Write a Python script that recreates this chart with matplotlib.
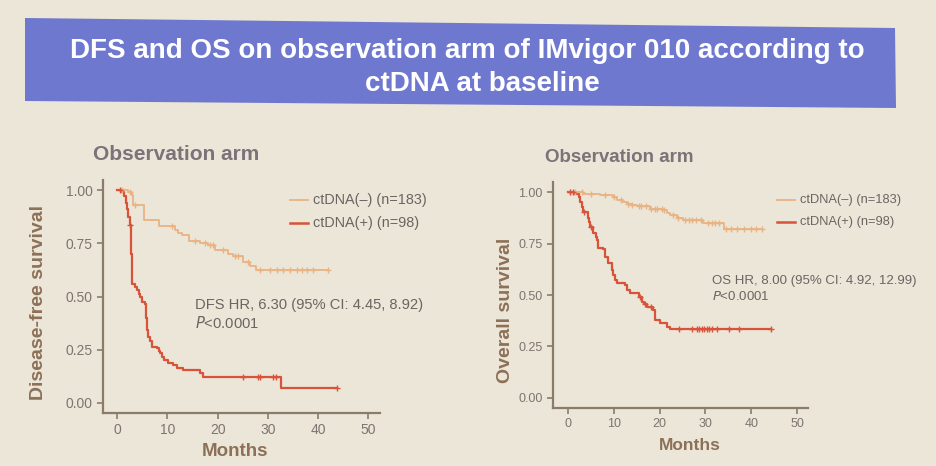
import numpy as np
import matplotlib
matplotlib.use("Agg")
import matplotlib.pyplot as plt
from matplotlib.patches import Polygon

plt.rcParams['font.family'] = ['Liberation Sans', 'DejaVu Sans']

# ---- data ----
x_ticks = [0, 10, 20, 30, 40, 50]
y_ticks = [0.00, 0.25, 0.50, 0.75, 1.00]
legend_labels = ["ctDNA(\u2013) (n=183)", "ctDNA(+) (n=98)"]

# DFS, ctDNA negative
dfs_neg_t = [0, 2.2, 2.9, 3.2, 5.4, 8.3, 11.5, 12.2, 13.0, 14.3, 16.5, 18.0, 19.5, 22.0, 23.0, 25.0, 26.5, 27.6, 42.0]
dfs_neg_s = [1.0, 0.99, 0.975, 0.93, 0.86, 0.83, 0.81, 0.80, 0.79, 0.76, 0.75, 0.742, 0.72, 0.70, 0.69, 0.66, 0.645, 0.623, 0.623]
dfs_neg_cens = [1.0, 2.5, 3.5, 11.0, 15.5, 17.5, 18.5, 19.0, 21.0, 23.5, 24.0, 26.0,
                28.5, 30.4, 31.8, 33.0, 34.4, 35.8, 36.8, 37.8, 39.0, 42.0]

# DFS, ctDNA positive
dfs_pos_t = [0, 0.9, 1.4, 1.8, 2.0, 2.2, 2.5, 2.7, 2.85, 2.95, 3.05, 3.6, 3.9, 4.3, 4.6, 4.9,
             5.6, 5.7, 5.8, 5.9, 6.0, 6.2, 6.5, 6.9, 7.9, 8.3, 8.6, 9.0, 9.3, 10.2, 11.2,
             11.9, 13.2, 16.5, 17.0, 32.7, 43.7]
dfs_pos_s = [1.0, 0.99, 0.97, 0.94, 0.91, 0.875, 0.835, 0.78, 0.70, 0.62, 0.56, 0.546, 0.53,
             0.51, 0.50, 0.475, 0.467, 0.43, 0.40, 0.37, 0.343, 0.31, 0.29, 0.264, 0.256,
             0.245, 0.233, 0.215, 0.20, 0.186, 0.178, 0.163, 0.155, 0.139, 0.12, 0.07, 0.07]
dfs_pos_cens = [0.5, 2.6, 25.1, 28.1, 28.5, 31.1, 31.7, 43.7]

# OS, ctDNA negative
os_neg_t = [0, 3.3, 7.0, 9.9, 10.6, 12.0, 12.8, 14.0, 15.0, 17.9, 20.8, 21.5, 22.3, 23.7,
            25.2, 29.5, 34.1, 42.3]
os_neg_s = [1.0, 0.99, 0.985, 0.977, 0.96, 0.952, 0.945, 0.938, 0.932, 0.92, 0.913, 0.90,
            0.888, 0.877, 0.867, 0.851, 0.819, 0.819]
os_neg_cens = [0.5, 1.5, 3.0, 5.0, 8.0, 10.0, 11.5, 13.0, 14.0, 15.5, 16.0, 17.0, 18.0, 19.0,
               19.5, 20.5, 21.0, 23.0, 24.0, 25.5, 26.5, 27.0, 28.0, 29.0, 30.5, 31.5, 32.0,
               33.0, 34.5, 35.5, 37.0, 38.5, 40.0, 41.0, 42.3]

# OS, ctDNA positive
os_pos_t = [0, 1.5, 2.3, 2.6, 3.0, 3.3, 4.4, 4.6, 4.8, 5.5, 6.0, 6.3, 6.5, 7.7, 8.1, 8.8,
            9.5, 9.9, 10.3, 10.6, 12.4, 12.8, 13.5, 15.4, 16.1, 16.6, 17.2, 18.6, 19.0,
            20.1, 21.5, 22.3, 44.3]
os_pos_s = [1.0, 0.994, 0.975, 0.953, 0.93, 0.904, 0.877, 0.855, 0.832, 0.80, 0.78, 0.767,
            0.727, 0.722, 0.686, 0.654, 0.621, 0.597, 0.575, 0.557, 0.549, 0.524, 0.511,
            0.492, 0.467, 0.455, 0.443, 0.427, 0.379, 0.363, 0.346, 0.335, 0.335]
os_pos_cens = [0.5, 1.0, 3.5, 5.0, 15.8, 16.8, 18.0, 24.2, 27.0, 28.1, 28.6, 29.2, 29.7,
               30.3, 30.8, 31.4, 32.5, 35.2, 37.3, 44.3]

# ---- styling ----
W, H = 936, 466
BG = "#ebe6d7"
NEG = "#e9b383"
POS = "#d9523a"
AXC = "#8b7b6b"
TICKC = "#7d7470"
LABC = "#8c7058"
SUBC = "#7b727a"
TXTC = "#6c6462"


def fx(px):
    return px / W


def fy(py):
    return 1 - py / H


def km(ax, t, s, cens, color, lw):
    t = np.array(t)
    s = np.array(s)
    ax.step(t, s, where="post", color=color, lw=lw, zorder=3)
    idx = np.searchsorted(t, cens, side="right") - 1
    ax.plot(cens, s[idx], ls="none", marker="+", ms=5, mew=1.0, color=color, zorder=4)


def style(ax, xlim, ylim, fs):
    ax.set_facecolor(BG)
    ax.set_xlim(*xlim)
    ax.set_ylim(*ylim)
    for side in ("top", "right"):
        ax.spines[side].set_visible(False)
    for side in ("left", "bottom"):
        ax.spines[side].set_color(AXC)
        ax.spines[side].set_linewidth(1.6)
    ax.set_xticks(x_ticks)
    ax.set_yticks(y_ticks)
    ax.set_yticklabels([f"{v:.2f}" for v in y_ticks])
    ax.tick_params(colors=AXC, labelcolor=TICKC, labelsize=fs, length=4, width=1.2, direction="out")


fig = plt.figure(figsize=(W / 100, H / 100), dpi=100, facecolor=BG)

# title banner
banner = Polygon([(fx(25), fy(18)), (fx(895), fy(28)), (fx(896), fy(108)), (fx(25), fy(101))],
                 closed=True, transform=fig.transFigure, facecolor="#6f78cf", edgecolor="none")
fig.patches.append(banner)
fig.text(fx(467), fy(58), "DFS and OS on observation arm of IMvigor 010 according to",
         color="white", fontsize=20, fontweight="bold", ha="center", va="baseline")
fig.text(fx(482), fy(91), "ctDNA at baseline",
         color="white", fontsize=20, fontweight="bold", ha="center", va="baseline")

# left panel: DFS
ax1 = fig.add_axes([fx(103), fy(413), fx(380) - fx(103), fy(180) - fy(413)])
style(ax1, (-2.8, 52.3), (-0.047, 1.047), 10)
km(ax1, dfs_neg_t, dfs_neg_s, dfs_neg_cens, NEG, 1.3)
km(ax1, dfs_pos_t, dfs_pos_s, dfs_pos_cens, POS, 1.6)

# right panel: OS
ax2 = fig.add_axes([fx(553), fy(408), fx(808) - fx(553), fy(182) - fy(408)])
style(ax2, (-3.3, 52.4), (-0.05, 1.05), 9)
km(ax2, os_neg_t, os_neg_s, os_neg_cens, NEG, 1.3)
km(ax2, os_pos_t, os_pos_s, os_pos_cens, POS, 1.6)

# panel headings and axis labels
fig.text(fx(93), fy(155), "Observation arm", color=SUBC, fontsize=15, fontweight="bold", va="center")
fig.text(fx(545), fy(157), "Observation arm", color=SUBC, fontsize=13.5, fontweight="bold", va="center")
fig.text(fx(39), fy(303), "Disease-free survival", color=LABC, fontsize=14, fontweight="bold",
         rotation=90, ha="center", va="center")
fig.text(fx(505), fy(310), "Overall survival", color=LABC, fontsize=14, fontweight="bold",
         rotation=90, ha="center", va="center")
fig.text(fx(235), fy(452), "Months", color=LABC, fontsize=13.5, fontweight="bold", ha="center", va="center")
fig.text(fx(690), fy(446), "Months", color=LABC, fontsize=12.5, fontweight="bold", ha="center", va="center")

# legends
for (x0, x1, tx, ys, fs) in [(290, 308, 313, (200, 223), 10.4), (777, 795, 800, (200, 222), 9.3)]:
    for lab, col, y in zip(legend_labels, [NEG, POS], ys):
        fig.add_artist(plt.Line2D([fx(x0), fx(x1)], [fy(y), fy(y)], color=col,
                                  lw=1.3 if col == NEG else 1.8, transform=fig.transFigure))
        fig.text(fx(tx), fy(y), lab, color=TXTC, fontsize=fs, va="center")

# HR annotations
fig.text(fx(195), fy(305), "DFS HR, 6.30 (95% CI: 4.45, 8.92)", color=TXTC, fontsize=10.6, va="center")
fig.text(fx(195), fy(323), "$\\it{P}$<0.0001", color=TXTC, fontsize=10.6, va="center")
fig.text(fx(712), fy(281), "OS HR, 8.00 (95% CI: 4.92, 12.99)", color=TXTC, fontsize=9.5, va="center")
fig.text(fx(712), fy(297), "$\\it{P}$<0.0001", color=TXTC, fontsize=9.5, va="center")

fig.savefig("out.png", dpi=100, facecolor=BG)
